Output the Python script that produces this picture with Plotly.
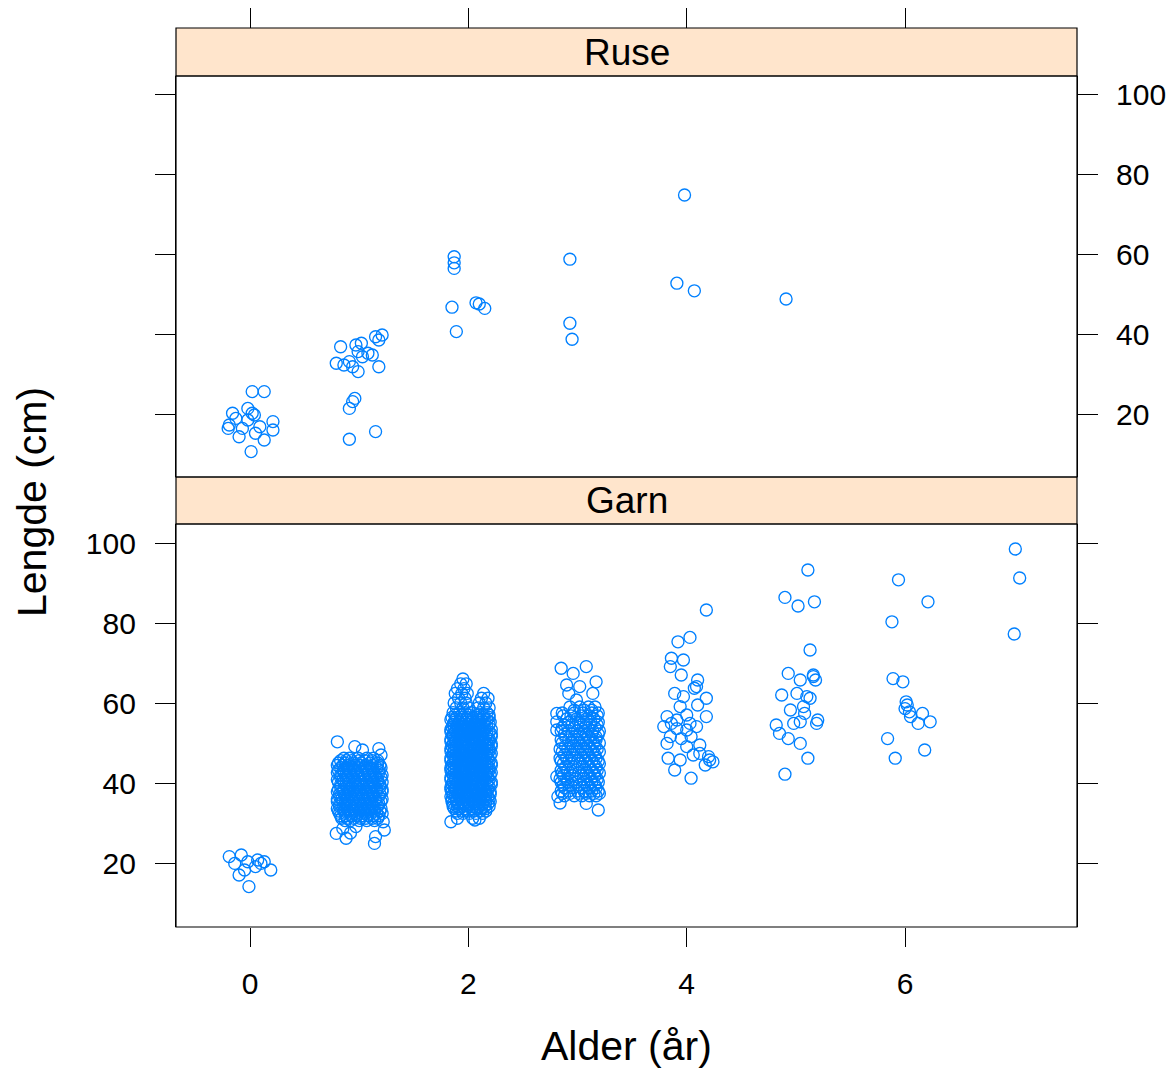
import plotly.graph_objects as go

# ---------------- data ----------------
# Ruse panel: jittered age (år) and length (cm)
ruse_age = [0.02, 0.13, -0.02, -0.16, -0.19, 0.04, 0.21, 0.21, -0.07, 0.05, 0.13, 0.01, -0.10, 0.09, -0.13, -0.20, -0.02, 0.02,
            0.83, 0.97, 1.02, 0.99, 1.08, 1.15, 1.21, 1.18, 0.79, 0.86, 0.94, 0.99, 0.91, 1.18, 0.96, 0.91, 0.94, 1.15, 0.91, 1.03, 1.12,
            1.87, 1.87, 1.87, 1.85, 2.07, 2.10, 2.15, 1.89,
            2.93, 2.93, 2.95,
            3.98, 3.91, 4.07,
            4.91]
ruse_len = [25.6, 25.6, 21.4, 20.2, 17.25, 19.75, 18.1, 16.0, 16.4, 15.2, 13.5, 10.6, 14.3, 16.8, 18.9, 16.4, 18.5, 20.2,
            36.8, 37.25, 37.7, 35.6, 35.2, 39.3, 39.75, 38.5, 32.7, 32.25, 31.8, 30.6, 33.1, 31.8, 23.9, 21.4, 23.1, 15.6, 13.7, 34.3, 34.75,
            59.3, 57.8, 56.4, 46.7, 47.8, 47.5, 46.4, 40.6,
            58.7, 42.7, 38.7,
            74.75, 52.7, 50.8,
            48.75]

# Garn panel, sparse groups (ages 0, 4, 5, 6, 7 and outliers of ages 1-3)
garn_age = [-0.19, -0.08, -0.14, -0.02, 0.07, 0.13, 0.19, 0.05, -0.05, -0.10, -0.01, 0.10,
            0.80, 0.96, 1.18, 1.20, 1.03, 0.79, 0.88, 0.92, 1.14, 1.15, 1.22, 1.23, 0.85, 0.97,
            1.95, 1.93, 1.98, 1.90, 1.96, 1.88, 1.94, 1.99, 2.14, 1.91, 1.97, 2.12, 2.18, 1.87, 1.93, 1.98, 2.10, 2.16,
            1.89, 1.95, 2.00, 2.09, 2.14, 2.19, 1.90, 2.04, 2.10, 1.84, 2.06,
            2.85, 2.96, 3.08, 2.90, 3.17, 3.02, 2.92, 3.14, 2.99, 2.81, 2.81, 2.81, 2.81, 2.82, 3.08, 3.19, 2.84,
            4.18, 3.92, 4.03, 3.86, 3.97, 3.85, 3.95, 3.89, 4.09, 4.18, 4.10, 3.82, 3.94, 4.00, 4.18, 3.79, 3.91, 4.00, 4.09,
            3.85, 3.95, 4.04, 4.12, 4.20, 4.24, 4.17, 3.83, 3.94, 3.89, 4.04, 4.06, 3.82, 4.00, 3.91, 4.03, 3.97, 4.10, 4.07,
            3.86, 4.12, 4.21,
            4.90, 5.02, 5.17, 5.11, 5.13, 4.93, 5.16, 5.18, 5.04, 5.01, 4.87, 5.10, 4.95, 5.07, 5.13, 5.04, 5.20, 5.19, 4.82,
            4.85, 4.93, 5.04, 5.11, 4.90, 5.16, 5.08, 4.98,
            5.94, 5.88, 6.21, 5.89, 5.98, 6.01, 6.00, 6.04, 6.05, 6.16, 6.23, 6.12, 5.84, 6.18, 5.91, 6.02,
            7.01, 7.05, 7.00]
garn_len = [21.6, 22.0, 19.9, 20.3, 20.75, 20.3, 18.25, 19.1, 18.25, 17.0, 14.1, 19.9,
            50.3, 49.1, 48.6, 47.0, 48.25, 27.4, 26.2, 27.5, 24.9, 26.6, 30.3, 28.25, 28.6, 29.1,
            66.0, 64.8, 64.8, 63.6, 63.6, 62.4, 62.4, 62.4, 62.4, 61.2, 61.2, 61.2, 61.2, 60.0, 60.0, 60.0, 60.0, 60.0,
            58.8, 58.8, 58.8, 58.8, 58.8, 58.8, 31.2, 31.2, 31.2, 30.3, 30.75,
            68.7, 67.4, 69.1, 64.5, 65.3, 64.1, 62.4, 62.4, 60.75, 57.4, 55.3, 53.25, 41.6, 36.6, 34.9, 33.25, 35.0,
            83.25, 75.3, 76.4, 71.2, 70.75, 69.1, 67.0, 62.4, 64.1, 61.2, 59.5, 56.6, 59.1, 57.0, 56.6, 54.1, 53.6, 53.25, 54.1,
            51.6, 51.1, 51.6, 49.5, 46.6, 45.3, 44.5, 46.2, 45.75, 43.25, 41.2, 47.0, 49.9, 49.1, 55.75, 54.9, 61.6, 65.75, 63.7,
            54.9, 47.4, 45.75,
            86.4, 84.25, 85.3, 93.25, 73.25, 67.4, 66.6, 65.75, 65.75, 62.4, 62.0, 61.6, 58.25, 59.1, 61.2, 55.3, 55.75, 54.9, 54.5,
            52.4, 51.1, 49.9, 46.2, 42.2, 67.0, 57.4, 54.9,
            90.8, 80.3, 85.3, 66.1, 65.3, 60.3, 58.6, 57.8, 56.6, 57.4, 55.3, 54.9, 51.1, 48.25, 46.2, 59.5,
            98.5, 91.25, 77.25]

# Garn, dense core of age 1: row lengths and the jittered ages on each row
g1_len = [46.2, 45.6, 45.0, 44.4, 43.8, 43.2, 42.6, 42.0, 41.4, 40.8, 40.2, 39.6, 39.0, 38.4,
          37.8, 37.2, 36.6, 36.0, 35.4, 34.8, 34.2, 33.6, 33.0, 32.4, 31.8, 31.2, 30.6]
g1_age = [[0.86, 0.91, 0.99, 1.07, 1.13],
          [0.83, 0.88, 0.93, 1.00, 1.05, 1.12, 1.17],
          [0.81, 0.87, 0.95, 1.02, 1.10, 1.17],
          [0.80, 0.85, 0.90, 0.96, 1.01, 1.06, 1.12, 1.19],
          [0.83, 0.89, 0.94, 0.99, 1.05, 1.11, 1.16, 1.20],
          [0.81, 0.86, 0.91, 0.96, 1.02, 1.07, 1.13, 1.18],
          [0.80, 0.86, 0.91, 0.97, 1.02, 1.08, 1.13, 1.18],
          [0.83, 0.88, 0.94, 0.99, 1.05, 1.10, 1.15, 1.21],
          [0.83, 0.88, 0.94, 0.99, 1.04, 1.10, 1.15, 1.20],
          [0.80, 0.85, 0.91, 0.96, 1.01, 1.06, 1.12, 1.17],
          [0.81, 0.86, 0.91, 0.96, 1.01, 1.07, 1.12, 1.17, 1.21],
          [0.83, 0.88, 0.94, 0.99, 1.04, 1.09, 1.14, 1.19],
          [0.83, 0.89, 0.93, 0.98, 1.04, 1.09, 1.14, 1.19],
          [0.81, 0.86, 0.91, 0.96, 1.01, 1.06, 1.11, 1.16, 1.21],
          [0.80, 0.85, 0.90, 0.95, 1.00, 1.06, 1.11, 1.16, 1.21],
          [0.82, 0.87, 0.92, 0.98, 1.03, 1.08, 1.13, 1.19],
          [0.82, 0.87, 0.92, 0.97, 1.03, 1.08, 1.13, 1.18],
          [0.80, 0.84, 0.89, 0.95, 1.00, 1.05, 1.10, 1.15, 1.21],
          [0.80, 0.85, 0.90, 0.94, 0.99, 1.05, 1.10, 1.15, 1.20],
          [0.82, 0.87, 0.92, 0.97, 1.02, 1.07, 1.12, 1.18],
          [0.82, 0.87, 0.92, 0.97, 1.02, 1.07, 1.12, 1.17],
          [0.80, 0.85, 0.89, 0.94, 0.99, 1.04, 1.09, 1.14, 1.20],
          [0.81, 0.86, 0.90, 0.95, 1.00, 1.04, 1.09, 1.14, 1.19],
          [0.82, 0.87, 0.92, 0.97, 1.02, 1.06, 1.11, 1.16, 1.21],
          [0.83, 0.88, 0.93, 0.98, 1.03, 1.08, 1.13, 1.18],
          [0.84, 0.89, 0.95, 1.01, 1.06, 1.12, 1.17],
          [0.87, 0.92, 1.00, 1.07, 1.14]]

# Garn, dense core of age 2
g2_len = [57.6, 57.0, 56.4, 55.8, 55.2, 54.6, 54.0, 53.4, 52.8, 52.2, 51.6, 51.0, 50.4, 49.8, 49.2, 48.6,
          48.0, 47.4, 46.8, 46.2, 45.6, 45.0, 44.4, 43.8, 43.2, 42.6, 42.0, 41.4, 40.8, 40.2, 39.6, 39.0,
          38.4, 37.8, 37.2, 36.6, 36.0, 35.4, 34.8, 34.2, 33.6, 33.0, 32.4]
g2_age = [[1.86, 1.92, 1.97, 2.02, 2.11, 2.17],
          [1.88, 1.94, 2.00, 2.09, 2.14, 2.19],
          [1.85, 1.89, 1.94, 1.99, 2.04, 2.08, 2.13, 2.19],
          [1.84, 1.88, 1.93, 1.98, 2.03, 2.08, 2.12, 2.17],
          [1.87, 1.91, 1.96, 2.01, 2.06, 2.10, 2.15, 2.20],
          [1.86, 1.90, 1.95, 2.00, 2.05, 2.09, 2.14, 2.19],
          [1.85, 1.89, 1.93, 1.98, 2.03, 2.07, 2.12, 2.17],
          [1.84, 1.87, 1.91, 1.96, 2.00, 2.05, 2.10, 2.15, 2.21],
          [1.84, 1.88, 1.92, 1.97, 2.01, 2.05, 2.09, 2.14, 2.19],
          [1.86, 1.90, 1.94, 1.99, 2.03, 2.07, 2.12, 2.17, 2.21],
          [1.86, 1.90, 1.95, 1.99, 2.04, 2.08, 2.12, 2.16, 2.21],
          [1.84, 1.88, 1.92, 1.97, 2.02, 2.06, 2.10, 2.14, 2.19],
          [1.84, 1.88, 1.93, 1.97, 2.02, 2.06, 2.10, 2.15, 2.19],
          [1.86, 1.90, 1.95, 2.00, 2.04, 2.08, 2.13, 2.17, 2.21],
          [1.85, 1.89, 1.94, 1.99, 2.03, 2.08, 2.12, 2.17, 2.21],
          [1.84, 1.87, 1.92, 1.96, 2.01, 2.06, 2.10, 2.15, 2.19],
          [1.84, 1.87, 1.92, 1.96, 2.01, 2.05, 2.10, 2.14, 2.19],
          [1.86, 1.89, 1.94, 1.98, 2.03, 2.08, 2.12, 2.17, 2.21],
          [1.86, 1.90, 1.95, 1.99, 2.03, 2.07, 2.12, 2.16, 2.20],
          [1.84, 1.88, 1.92, 1.97, 2.01, 2.05, 2.10, 2.14, 2.18],
          [1.84, 1.88, 1.93, 1.97, 2.02, 2.06, 2.11, 2.15, 2.19],
          [1.86, 1.90, 1.95, 1.99, 2.04, 2.08, 2.13, 2.17, 2.21],
          [1.85, 1.89, 1.94, 1.98, 2.03, 2.08, 2.12, 2.17, 2.21],
          [1.84, 1.87, 1.92, 1.96, 2.01, 2.06, 2.10, 2.15, 2.19],
          [1.84, 1.87, 1.92, 1.96, 2.01, 2.05, 2.10, 2.14, 2.19],
          [1.85, 1.89, 1.94, 1.98, 2.03, 2.07, 2.12, 2.17, 2.21],
          [1.86, 1.90, 1.95, 1.99, 2.04, 2.08, 2.12, 2.16, 2.20],
          [1.84, 1.88, 1.92, 1.97, 2.01, 2.05, 2.09, 2.14, 2.18],
          [1.84, 1.88, 1.93, 1.97, 2.02, 2.06, 2.11, 2.15, 2.19],
          [1.86, 1.90, 1.95, 1.99, 2.04, 2.09, 2.13, 2.17, 2.21],
          [1.85, 1.89, 1.94, 1.98, 2.03, 2.07, 2.12, 2.17, 2.21],
          [1.84, 1.87, 1.92, 1.96, 2.00, 2.05, 2.10, 2.14, 2.19],
          [1.84, 1.88, 1.92, 1.96, 2.01, 2.05, 2.10, 2.14, 2.18],
          [1.85, 1.89, 1.94, 1.98, 2.03, 2.07, 2.12, 2.16, 2.20],
          [1.86, 1.90, 1.95, 1.99, 2.04, 2.08, 2.12, 2.16, 2.20],
          [1.84, 1.88, 1.92, 1.97, 2.01, 2.06, 2.10, 2.14, 2.18],
          [1.85, 1.89, 1.93, 1.98, 2.02, 2.06, 2.11, 2.15, 2.19],
          [1.85, 1.89, 1.94, 1.99, 2.03, 2.07, 2.11, 2.16, 2.20],
          [1.86, 1.91, 1.96, 2.00, 2.05, 2.09, 2.13, 2.18],
          [1.86, 1.90, 1.95, 2.00, 2.05, 2.10, 2.15, 2.19],
          [1.87, 1.92, 1.97, 2.03, 2.08, 2.12, 2.16],
          [1.89, 1.94, 2.00, 2.05, 2.11, 2.16],
          [1.90, 1.95, 2.01, 2.07, 2.13]]

# Garn, dense core of age 3
g3_len = [59.0, 58.2, 57.5, 56.8, 56.0, 55.2, 54.5, 53.8, 53.0, 52.2, 51.5, 50.8, 50.0, 49.2, 48.5, 47.8,
          47.0, 46.2, 45.5, 44.8, 44.0, 43.2, 42.5, 41.8, 41.0, 40.2, 39.5, 38.8, 38.0, 37.4, 36.8]
g3_age = [[2.93, 3.02, 3.10, 3.16],
          [2.97, 3.06, 3.13],
          [2.86, 2.97, 3.05, 3.13, 3.19],
          [2.87, 2.94, 3.03, 3.11, 3.18],
          [2.90, 2.99, 3.08, 3.15],
          [2.92, 3.01, 3.06, 3.12, 3.19],
          [2.88, 2.95, 3.03, 3.11, 3.18],
          [2.86, 2.97, 3.07, 3.16],
          [2.85, 2.92, 3.00, 3.06, 3.14, 3.20],
          [2.88, 2.95, 3.02, 3.08, 3.13, 3.19],
          [2.89, 2.97, 3.04, 3.10, 3.17],
          [2.85, 2.92, 3.00, 3.06, 3.12, 3.17],
          [2.86, 2.94, 3.01, 3.08, 3.15, 3.20],
          [2.89, 2.96, 3.03, 3.10, 3.16],
          [2.84, 2.91, 2.98, 3.05, 3.12, 3.18],
          [2.86, 2.93, 3.00, 3.07, 3.14, 3.20],
          [2.88, 2.95, 3.03, 3.09, 3.16],
          [2.84, 2.90, 2.97, 3.05, 3.11, 3.17],
          [2.85, 2.92, 3.00, 3.07, 3.13, 3.19],
          [2.87, 2.94, 3.02, 3.09, 3.15, 3.20],
          [2.89, 2.96, 3.04, 3.11, 3.17],
          [2.85, 2.91, 2.98, 3.06, 3.13, 3.18],
          [2.86, 2.93, 3.01, 3.08, 3.15, 3.20],
          [2.87, 2.95, 3.03, 3.10, 3.16],
          [2.84, 2.90, 2.98, 3.05, 3.12, 3.18],
          [2.85, 2.91, 2.99, 3.06, 3.13, 3.19],
          [2.87, 2.94, 3.02, 3.09, 3.16],
          [2.88, 2.96, 3.04, 3.11, 3.17],
          [2.85, 2.92, 3.00, 3.06, 3.13, 3.19],
          [2.86, 2.93, 3.01, 3.08, 3.15, 3.20],
          [2.88, 2.97, 3.04, 3.11, 3.17]]

x_ticks = [0, 2, 4, 6]
y_ticks = [20, 40, 60, 80, 100]
panel_names = ["Ruse", "Garn"]

# ---------------- assemble ----------------
gx = list(garn_age)
gy = list(garn_len)
for lens, ages in ((g1_len, g1_age), (g2_len, g2_age), (g3_len, g3_age)):
    for L, row in zip(lens, ages):
        for a in row:
            gx.append(a)
            gy.append(L)

# the page body has an 8px margin; positions below are taken from the reference picture
OFF = 8
W, H = 1175 - OFF, 1071 - OFF
def px(v):
    return (v - OFF) / W
def py(v):
    return 1 - (v - OFF) / H

xl, xr = px(176), px(1077)
top_strip = (py(76), py(28))
top_panel = (py(477), py(76))
bot_strip = (py(524), py(477))
bot_panel = (py(927), py(524))

COL = "#0080ff"
FONT = "Liberation Sans, Arial, sans-serif"
marker = dict(symbol="circle-open", size=12, color=COL, line=dict(width=1.35, color=COL))

fig = go.Figure()
fig.add_trace(go.Scatter(x=ruse_age, y=ruse_len, mode="markers", marker=marker,
                         xaxis="x2", yaxis="y2", showlegend=False, hoverinfo="x+y"))
fig.add_trace(go.Scatter(x=gx, y=gy, mode="markers", marker=marker,
                         xaxis="x", yaxis="y", showlegend=False, hoverinfo="x+y"))

xrange = [-0.678, 7.575]
tickfont = dict(family=FONT, size=30, color="black")

fig.update_layout(
    width=W, height=H,
    margin=dict(l=0, r=0, t=0, b=0),
    paper_bgcolor="white", plot_bgcolor="white",
    font=dict(family=FONT, color="black"),
    xaxis=dict(domain=[xl, xr], range=xrange, anchor="y", tickvals=x_ticks,
               ticks="outside", ticklen=19, tickwidth=1.2, tickcolor="black", ticklabelstandoff=11,
               showgrid=False, zeroline=False, showline=False, tickfont=tickfont),
    yaxis=dict(domain=list(bot_panel), range=[4.0, 104.75], anchor="x", side="left",
               tickvals=y_ticks, ticks="outside", ticklen=20, tickwidth=1.2, tickcolor="black",
               ticklabelstandoff=13,
               showline=True, linecolor="black", linewidth=1.2, mirror="ticks",
               showgrid=False, zeroline=False, tickfont=tickfont),
    xaxis2=dict(domain=[xl, xr], range=xrange, anchor="free", position=top_strip[1], side="top",
                tickvals=x_ticks, ticks="outside", ticklen=20, tickwidth=1.2, tickcolor="black",
                showticklabels=False, showgrid=False, zeroline=False, showline=False),
    yaxis2=dict(domain=list(top_panel), range=[4.25, 104.5], anchor="x2", side="right",
                tickvals=y_ticks, ticks="outside", ticklen=20, tickwidth=1.2, tickcolor="black",
                ticklabelstandoff=12,
                showline=True, linecolor="black", linewidth=1.2, mirror="ticks",
                showgrid=False, zeroline=False, tickfont=tickfont),
)

shapes = []
for (y0, y1) in (top_strip, bot_strip):
    shapes.append(dict(type="rect", xref="paper", yref="paper", x0=xl, x1=xr, y0=y0, y1=y1,
                       fillcolor="#ffe5cc", line=dict(color="black", width=1.2), layer="below"))
for (y0, y1) in (top_panel, bot_panel):
    shapes.append(dict(type="rect", xref="paper", yref="paper", x0=xl, x1=xr, y0=y0, y1=y1,
                       fillcolor="rgba(0,0,0,0)", line=dict(color="black", width=1.2), layer="above"))
fig.update_layout(shapes=shapes)

ann = []
for name, (y0, y1) in zip(panel_names, (top_strip, bot_strip)):
    ann.append(dict(text=name, xref="paper", yref="paper", x=(xl + xr) / 2, y=(y0 + y1) / 2,
                    showarrow=False, font=dict(family=FONT, size=37, color="black"),
                    xanchor="center", yanchor="middle"))
ann.append(dict(text="Alder (år)", xref="paper", yref="paper", x=px(627), y=py(1046),
                showarrow=False, font=dict(family=FONT, size=41, color="black"),
                xanchor="center", yanchor="middle"))
ann.append(dict(text="Lengde (cm)", xref="paper", yref="paper", x=px(32), y=py(502),
                showarrow=False, textangle=-90, font=dict(family=FONT, size=41, color="black"),
                xanchor="center", yanchor="middle"))
fig.update_layout(annotations=ann)

fig.write_html("out.html")
